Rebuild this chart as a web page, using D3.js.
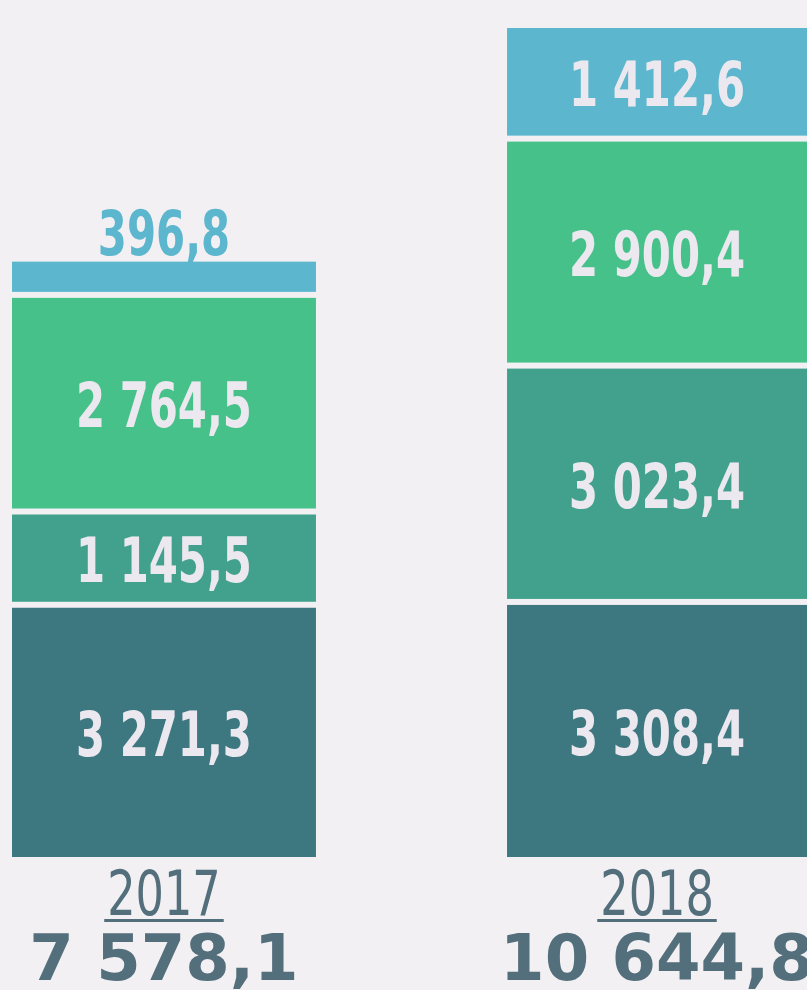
<!DOCTYPE html>
<html>
<head>
<meta charset="utf-8">
<script src="https://cdn.jsdelivr.net/npm/d3@7"></script>
<style>
  body { margin: 0; background: #f2f0f3; }
  svg { display: block; }
</style>
</head>
<body>
<svg id="chart" width="807" height="990"></svg>
<script>
// data, bottom segment first
var years = ["2017", "2018"];
var totals = ["7 578,1", "10 644,8"];
var values2017 = [3271.3, 1145.5, 2764.5, 396.8];
var values2018 = [3308.4, 3023.4, 2900.4, 1412.6];
var colors = ["#3d7780", "#41a18c", "#47c18a", "#5cb6cd"];

var width = 807, height = 990;
var bottom = 857, gap = 6;
var narrow = "'DejaVu Sans Condensed', 'DejaVu Sans', sans-serif";
var svg = d3.select("#chart");

var fmt = function(v) {
  var parts = v.toFixed(1).split(".");
  var intPart = parts[0].replace(/\B(?=(\d{3})+(?!\d))/g, " ");
  return intPart + "," + parts[1];
};

var x = d3.scaleBand()
  .domain(years)
  .range([12, 811])
  .paddingInner(0.386);

var maxTotal = d3.max([d3.sum(values2017), d3.sum(values2018)]);
var h = d3.scaleLinear()
  .domain([0, maxTotal])
  .range([0, 829 - gap * 3]);

var byYear = { "2017": values2017, "2018": values2018 };

years.forEach(function(yr, yi) {
  var vals = byYear[yr];
  var cum = 0;
  var segs = vals.map(function(v, i) {
    var y1 = bottom - h(cum) - gap * i;
    cum += v;
    var y0 = bottom - h(cum) - gap * i;
    return { v: v, i: i, y0: y0, y1: y1, small: (bottom - h(cum) - gap * i) > y1 - 60 };
  });

  var cx = x(yr) + x.bandwidth() / 2;
  if (cx > width - 150) cx = 657;

  var g = svg.append("g");
  g.selectAll("rect")
    .data(segs)
    .enter().append("rect")
      .attr("x", x(yr))
      .attr("width", x.bandwidth())
      .attr("y", function(d) { return d.y0; })
      .attr("height", function(d) { return d.y1 - d.y0; })
      .attr("fill", function(d) { return colors[d.i]; });

  g.selectAll("text.val")
    .data(segs)
    .enter().append("text")
      .attr("class", "val")
      .attr("transform", function(d) {
        // small segment: label sits above the bar
        var ty = d.small ? d.y0 - 7 : (d.y0 + d.y1) / 2 + 24;
        return "translate(" + cx + "," + ty + ") scale(0.75,1)";
      })
      .attr("text-anchor", "middle")
      .attr("font-family", narrow)
      .attr("font-weight", "bold")
      .attr("font-size", 62)
      .attr("fill", function(d) { return d.small ? colors[d.i] : "#ebe8ef"; })
      .text(function(d) { return fmt(d.v); });

  var yearText = svg.append("text")
    .attr("transform", "translate(" + cx + ",915) scale(0.8,1)")
    .attr("text-anchor", "middle")
    .attr("font-family", narrow)
    .attr("font-size", 62)
    .attr("fill", "#546f7c")
    .text(yr);
  var bb = yearText.node().getBBox();
  svg.append("rect")
    .attr("x", cx - bb.width * 0.8 / 2 - 3)
    .attr("y", 919)
    .attr("width", bb.width * 0.8 + 6)
    .attr("height", 3)
    .attr("fill", "#546f7c");

  svg.append("text")
    .attr("x", cx)
    .attr("y", 980)
    .attr("text-anchor", "middle")
    .attr("font-family", "'DejaVu Sans', sans-serif")
    .attr("font-weight", "bold")
    .attr("font-size", 64)
    .attr("fill", "#546f7c")
    .text(totals[yi]);
});
</script>
</body>
</html>
